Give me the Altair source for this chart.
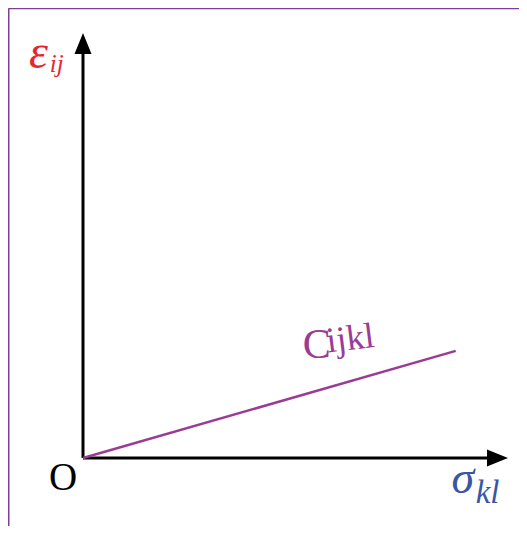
import altair as alt
import pandas as pd

# Axis extents (arbitrary units of stress / strain)
axis_stress = [0.0, 10.0]
axis_strain = [0.0, 10.0]

# Linear constitutive relation C_ijkl
line_stress = [0.0, 8.77]
line_strain = [0.0, 2.52]

FONT = "Liberation Serif"
PURPLE = "#9b3b96"
RED = "#e8262d"
BLUE = "#3b55a6"
FRAME = "#7f3f98"

xs = alt.Scale(domain=axis_stress, nice=False, zero=False)
ys = alt.Scale(domain=axis_strain, nice=False, zero=False)


def X(f="x"):
    return alt.X(f"{f}:Q", scale=xs, axis=None)


def Y(f="y"):
    return alt.Y(f"{f}:Q", scale=ys, axis=None)


line_df = pd.DataFrame({"x": line_stress, "y": line_strain})
axes_df = pd.DataFrame({
    "x": [axis_stress[0], axis_stress[0]],
    "y": [axis_strain[0], axis_strain[0]],
    "x2": [axis_stress[1] * 0.97, axis_stress[0]],
    "y2": [axis_strain[0], axis_strain[1] * 0.97],
})

# frame of the slide box (only left and top edges fall inside the picture)
frame_df = pd.DataFrame({
    "x": [-1.753, -1.753], "y": [10.58, 10.58],
    "x2": [-1.753, 14.0], "y2": [-3.0, 10.58],
})
frame = alt.Chart(frame_df).mark_rule(color=FRAME, strokeWidth=2).encode(
    x=X(), y=Y(), x2="x2:Q", y2="y2:Q")

axes = alt.Chart(axes_df).mark_rule(color="black", strokeWidth=3).encode(
    x=X(), y=Y(), x2="x2:Q", y2="y2:Q")

arrow_y = alt.Chart(pd.DataFrame({"x": [axis_stress[0]], "y": [axis_strain[1]]})).mark_point(
    shape="M0,0L0.85,2.1L-0.85,2.1Z", size=400, filled=True,
    color="black", opacity=1, strokeWidth=0).encode(x=X(), y=Y())
arrow_x = alt.Chart(pd.DataFrame({"x": [axis_stress[1]], "y": [axis_strain[0]]})).mark_point(
    shape="M0,0L-2.1,-0.84L-2.1,0.84Z", size=400, filled=True,
    color="black", opacity=1, strokeWidth=0).encode(x=X(), y=Y())

cline = alt.Chart(line_df).mark_line(color=PURPLE, strokeWidth=2.5).encode(x=X(), y=Y())


def label(text, x, y, size, color, style="normal", angle=0):
    return alt.Chart(pd.DataFrame({"x": [x], "y": [y]})).mark_text(
        text=text, font=FONT, fontSize=size, fontStyle=style,
        color=color, align="left", baseline="alphabetic", angle=angle).encode(x=X(), y=Y())


labels = [
    label("ε", -1.27, 9.18, 48, RED, "italic"),
    label("ij", -0.78, 9.08, 25, RED, "italic"),
    label("C", 5.17, 2.35, 42, PURPLE),
    label("ijkl", 5.76, 2.48, 36, PURPLE, angle=353),
    label("σ", 8.67, -0.82, 46, BLUE, "italic"),
    label("kl", 9.24, -1.06, 33, BLUE, "italic"),
    label("O", -0.80, -0.75, 39, "black"),
]

chart = alt.layer(frame, axes, arrow_y, arrow_x, cline, *labels).properties(
    width=425, height=425,
    padding={"left": 75, "top": 25, "right": 11, "bottom": 68},
    autosize=alt.AutoSizeParams(type="none"),
    background="white",
).configure_view(stroke=None)

chart.save("out.html", embed_options={"renderer": "svg", "actions": False})
